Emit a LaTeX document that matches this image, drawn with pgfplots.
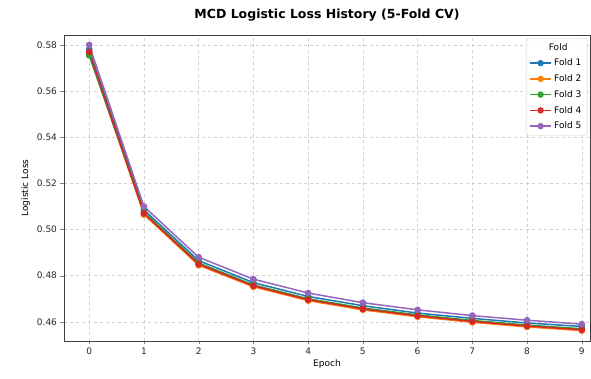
\documentclass[border=0pt]{standalone}
\usepackage{pgfplots}
\pgfplotsset{compat=1.18}
\usepackage{fontspec}
\setmainfont{DejaVu Sans}
\definecolor{c1}{HTML}{1F77B4}
\definecolor{c2}{HTML}{FF7F0E}
\definecolor{c3}{HTML}{2CA02C}
\definecolor{c4}{HTML}{D62728}
\definecolor{c5}{HTML}{9467BD}
\begin{document}
\begin{tikzpicture}
\begin{axis}[
  name=ax,
  scale only axis,
  width=526pt, height=306pt,
  xmin=-0.46, xmax=9.15,
  ymin=0.4517, ymax=0.5843,
  xtick={0,...,9},
  ytick={0.46,0.48,0.50,0.52,0.54,0.56,0.58},
  /pgf/number format/assume math mode=true,
  yticklabel style={/pgf/number format/fixed, /pgf/number format/precision=2, /pgf/number format/fixed zerofill},
  scaled y ticks=false,
  tick label style={font=\fontsize{9}{10}\selectfont, color=black!85},
  label style={font=\fontsize{9}{10}\selectfont},
  xlabel style={yshift=2pt},
  title style={font=\fontsize{12.5}{14}\selectfont\bfseries, yshift=4pt},
  title={MCD Logistic Loss History (5-Fold CV)},
  xlabel={Epoch}, ylabel={Logistic Loss},
  tick align=outside, tick pos=left,
  major tick length=3.5pt,
  axis line style={black!75},
  grid=major,
  grid style={dashed, black!18, line width=0.5pt},
  every axis plot/.append style={line width=1.5pt, mark=*, mark size=2.6pt},
  legend cell align=left,
  legend style={font=\fontsize{9}{10}\selectfont, draw=black!20, rounded corners=2pt, fill=white, fill opacity=0.85, text opacity=1, row sep=3.4pt, inner sep=3pt, at={(0.995,0.99)}, anchor=north east},
  legend image code/.code={\draw[mark repeat=2,mark phase=2,mark size=2.4pt] plot coordinates {(0cm,0cm)(0.38cm,0cm)(0.76cm,0cm)};},
]
\addlegendimage{empty legend}
\addlegendentry{\hspace{-20pt}\makebox[48pt][c]{Fold}}
\addplot[color=c1] coordinates {(0,0.5780)(1,0.5085)(2,0.4865)(3,0.4770)(4,0.4710)(5,0.4670)(6,0.4638)(7,0.4615)(8,0.4595)(9,0.4580)};
\addlegendentry{Fold 1}
\addplot[color=c2] coordinates {(0,0.5760)(1,0.5065)(2,0.4845)(3,0.4752)(4,0.4692)(5,0.4652)(6,0.4622)(7,0.4598)(8,0.4578)(9,0.4562)};
\addlegendentry{Fold 2}
\addplot[color=c3] coordinates {(0,0.5755)(1,0.5075)(2,0.4855)(3,0.4760)(4,0.4700)(5,0.4660)(6,0.4630)(7,0.4606)(8,0.4586)(9,0.4570)};
\addlegendentry{Fold 3}
\addplot[color=c4] coordinates {(0,0.5770)(1,0.5070)(2,0.4850)(3,0.4756)(4,0.4696)(5,0.4656)(6,0.4626)(7,0.4602)(8,0.4582)(9,0.4566)};
\addlegendentry{Fold 4}
\addplot[color=c5] coordinates {(0,0.5800)(1,0.5100)(2,0.4880)(3,0.4785)(4,0.4725)(5,0.4683)(6,0.4652)(7,0.4627)(8,0.4607)(9,0.4590)};
\addlegendentry{Fold 5}
\end{axis}
\useasboundingbox ([shift={(-64pt,-38pt)}]ax.south west) rectangle ([shift={(1pt,35pt)}]ax.north east);
\end{tikzpicture}
\end{document}
